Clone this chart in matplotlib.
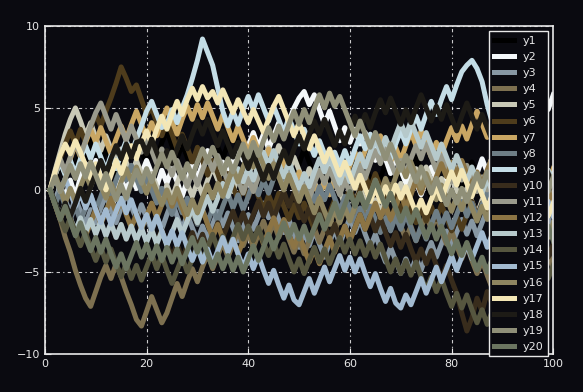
import matplotlib
matplotlib.use("Agg")
import numpy as np
import matplotlib.pyplot as plt

# 20 random-walk style series (x = 1..100)
y1 = [0.0, 0.8, 1.5, 0.9, 2.0, 1.2, 2.4, 1.8, 3.0, 2.2,
      1.5, 2.6, 1.9, 1.0, 2.1, 2.9, 2.0, 3.1, 2.4, 1.6,
      2.5, 1.8, 2.9, 3.6, 2.7, 1.9, 2.8, 2.0, 1.1, 2.2,
      1.5, 0.7, 1.8, 2.6, 1.9, 2.8, 3.5, 2.6, 1.8, 2.7,
      1.9, 1.1, 0.4, 1.3, 0.5, 1.4, 2.2, 1.5, 0.6, 1.6,
      2.5, 1.7, 0.9, 1.9, 1.1, 0.2, 1.0, 0.3, 1.2, 2.0,
      1.2, 0.4, 1.5, 0.6, -0.3, 0.7, 1.6, 0.8, 1.8, 1.0,
      0.1, 1.1, 2.0, 1.2, 0.3, -0.5, 0.5, -0.4, 0.6, 1.5,
      0.7, -0.2, 0.8, 1.7, 0.9, 0.0, 1.0, 0.2, 1.2, 0.4,
      -0.6, 0.3, 1.2, 0.4, -0.5, 0.5, 1.4, 0.6, -0.3, 0.5]
y2 = [0.0, -0.8, 0.3, -0.5, 0.6, -0.4, 0.8, 1.6, 0.9, 1.8,
      0.8, -0.3, -1.2, -0.2, 0.7, -0.1, 0.9, 0.1, 1.0, 1.8,
      1.0, 0.2, 1.2, 0.4, 1.3, 0.5, -0.4, 0.6, 1.5, 0.7,
      1.6, 2.4, 1.5, 0.7, 1.7, 0.9, 1.8, 2.6, 1.8, 2.7,
      3.5, 2.6, 3.4, 2.5, 3.3, 4.1, 3.2, 4.2, 5.0, 5.6,
      6.0, 5.2, 5.8, 4.9, 4.0, 4.8, 3.9, 3.0, 3.8, 2.9,
      3.7, 2.8, 3.5, 2.6, 1.8, 2.7, 1.9, 1.0, 2.0, 1.2,
      0.4, 1.3, 0.5, -0.3, 0.6, 1.4, 0.6, -0.2, 0.8, 1.6,
      0.8, 1.7, 0.9, 0.1, 1.0, 1.9, 1.1, 2.0, 2.9, 2.1,
      3.0, 3.8, 3.0, 3.9, 4.7, 3.9, 4.8, 5.6, 4.9, 5.8]
y3 = [0.0, -0.7, 0.2, -0.6, -1.4, -0.5, -1.3, -2.1, -1.2, -2.0,
      -1.1, -0.3, -1.2, -2.0, -1.1, -0.2, -1.0, -1.8, -0.9, -1.7,
      -2.5, -1.6, -2.4, -1.5, -0.7, -1.6, -2.4, -1.5, -2.3, -3.1,
      -2.2, -3.0, -2.1, -1.3, -2.2, -1.4, -2.3, -3.1, -2.3, -1.5,
      -2.4, -1.6, -0.8, -1.7, -0.9, -1.8, -2.6, -1.8, -2.7, -3.5,
      -2.6, -3.4, -2.5, -3.3, -4.1, -3.2, -2.4, -3.3, -2.5, -1.7,
      -2.6, -1.8, -2.7, -3.5, -2.7, -3.6, -4.4, -3.5, -4.3, -5.1,
      -4.2, -5.0, -4.1, -4.9, -4.0, -3.2, -4.1, -3.3, -2.5, -3.4,
      -2.6, -1.8, -2.7, -1.9, -2.8, -2.0, -1.2, -2.1, -1.3, -2.2,
      -3.0, -2.2, -3.1, -2.3, -1.5, -2.4, -1.6, -2.5, -1.7, -2.6]
y4 = [0.0, -0.9, -1.8, -2.9, -3.8, -4.9, -5.8, -6.6, -7.1, -6.2,
      -5.3, -4.6, -5.4, -4.5, -5.3, -6.2, -7.0, -7.9, -8.3, -7.4,
      -6.5, -7.3, -8.1, -7.5, -6.6, -5.7, -6.5, -5.6, -4.8, -5.6,
      -4.7, -3.9, -4.8, -4.0, -3.2, -4.1, -3.3, -2.5, -3.4, -2.6,
      -3.5, -2.7, -1.9, -2.8, -2.0, -2.9, -2.1, -3.0, -3.8, -3.0,
      -3.9, -3.1, -2.3, -3.2, -2.4, -1.6, -2.5, -1.7, -0.9, -1.8,
      -1.0, -1.9, -1.1, -0.3, -1.2, -0.4, -1.3, -2.1, -1.3, -2.2,
      -3.0, -2.2, -3.1, -2.3, -1.5, -2.4, -1.6, -2.5, -3.3, -2.5,
      -3.4, -4.2, -3.4, -4.3, -5.1, -4.3, -5.2, -6.0, -5.2, -6.1,
      -6.9, -6.1, -5.3, -6.2, -5.4, -4.6, -5.5, -4.7, -3.9, -4.8]
y5 = [0.0, 1.2, 2.3, 3.4, 4.3, 5.0, 4.2, 3.3, 4.1, 3.2,
      2.4, 3.3, 2.5, 1.6, 2.5, 1.7, 0.9, 1.8, 1.0, 0.1,
      1.0, 0.2, -0.6, 0.3, -0.5, 0.4, 1.2, 0.4, -0.4, 0.5,
      -0.3, 0.6, 1.4, 0.6, 1.5, 0.7, -0.1, 0.8, 0.0, 0.9,
      1.7, 0.9, 1.8, 2.6, 1.8, 2.7, 1.9, 1.1, 2.0, 1.2,
      0.4, 1.3, 0.5, -0.3, 0.6, -0.2, 0.7, -0.1, -0.9, 0.0,
      -0.8, 0.1, -0.7, -1.5, -0.6, -1.4, -0.5, 0.3, -0.5, 0.4,
      -0.4, 0.5, 1.3, 0.5, 1.4, 0.6, -0.2, 0.7, -0.1, 0.8,
      0.0, -0.8, 0.1, -0.7, -1.5, -0.6, -1.4, -0.5, -1.3, -2.1,
      -1.2, -2.0, -1.1, -0.3, -1.2, -0.4, -1.3, -0.5, 0.3, -0.5]
y6 = [0.0, 0.9, 1.9, 2.8, 3.6, 2.8, 3.7, 2.9, 3.8, 4.6,
      3.9, 4.8, 5.6, 6.5, 7.5, 6.8, 6.0, 6.4, 5.5, 4.6,
      5.0, 4.1, 3.3, 4.2, 3.4, 2.5, 3.4, 2.6, 1.7, 2.6,
      1.8, 0.9, 1.8, 1.0, 0.1, 1.0, 0.2, -0.6, 0.3, -0.5,
      0.4, -0.4, -1.2, -0.3, -1.1, -0.2, -1.0, -1.8, -0.9, -1.7,
      -0.8, -1.6, -2.4, -1.5, -2.3, -1.4, -0.6, -1.5, -0.7, 0.1,
      -0.8, 0.0, 0.9, 0.1, 1.0, 0.2, -0.6, 0.3, -0.5, -1.3,
      -0.4, -1.2, -2.0, -1.1, -1.9, -1.0, -1.8, -0.9, -1.7, -2.5,
      -1.6, -2.4, -1.5, -0.7, -1.6, -0.8, -1.7, -0.9, -0.1, -1.0,
      -0.2, 0.7, -0.1, 0.8, 0.0, 0.9, 0.1, 1.0, 0.2, -0.6]
y7 = [0.0, 0.9, 1.8, 1.0, 1.9, 2.8, 2.0, 2.9, 3.7, 2.9,
      3.8, 3.0, 2.2, 3.1, 3.9, 3.1, 4.0, 4.8, 4.0, 3.2,
      4.1, 3.3, 4.2, 5.0, 4.2, 3.4, 4.3, 5.1, 4.3, 5.2,
      4.4, 5.3, 4.5, 3.7, 4.6, 3.8, 3.0, 3.9, 3.1, 2.3,
      3.2, 2.4, 1.6, 2.5, 1.7, 0.9, 1.8, 1.0, 0.2, 1.1,
      0.3, -0.5, 0.4, -0.4, 0.5, -0.3, 0.6, 1.4, 0.6, 1.5,
      2.3, 1.5, 2.4, 3.2, 2.4, 3.3, 2.5, 1.7, 2.6, 1.8,
      2.7, 3.5, 2.7, 3.6, 2.8, 2.0, 2.9, 2.1, 3.0, 3.8,
      3.0, 3.9, 3.1, 4.0, 4.8, 4.0, 3.2, 4.1, 3.3, 2.5,
      3.4, 2.6, 1.8, 2.7, 1.9, 1.1, 2.0, 1.2, 0.4, 1.3]
y8 = [0.0, -0.9, -0.1, -1.0, -1.8, -1.0, -1.9, -1.1, -0.3, -1.2,
      -0.4, 0.5, -0.3, 0.6, 1.4, 0.6, 1.5, 0.7, -0.1, 0.8,
      0.0, -0.8, 0.1, -0.7, -1.5, -0.6, -1.4, -0.5, -1.3, -2.1,
      -1.2, -2.0, -1.1, -1.9, -1.0, -0.2, -1.1, -0.3, -1.2, -0.4,
      0.5, -0.3, 0.6, -0.2, 0.7, 1.5, 0.7, 1.6, 0.8, 0.0,
      0.9, 0.1, -0.7, 0.2, -0.6, 0.3, -0.5, -1.3, -0.4, -1.2,
      -2.0, -1.1, -1.9, -1.0, -1.8, -2.6, -1.7, -2.5, -1.6, -2.4,
      -1.5, -2.3, -3.1, -2.2, -3.0, -2.1, -1.3, -2.2, -1.4, -2.3,
      -1.5, -0.7, -1.6, -0.8, -1.7, -0.9, -0.1, -1.0, -0.2, -1.1,
      -1.9, -1.1, -2.0, -1.2, -0.4, -1.3, -0.5, -1.4, -0.6, -1.5]
y9 = [0.0, 0.9, 1.7, 0.9, 1.8, 1.0, 1.9, 2.7, 1.9, 2.8,
      2.0, 1.2, 2.1, 1.3, 2.2, 3.0, 2.2, 3.1, 3.9, 4.8,
      5.4, 4.6, 3.8, 4.0, 4.9, 4.1, 5.0, 5.8, 6.8, 7.9,
      9.2, 8.4, 7.6, 6.2, 4.8, 3.9, 4.8, 4.0, 4.9, 5.7,
      4.9, 5.8, 5.0, 4.2, 5.1, 4.3, 3.5, 4.4, 3.6, 2.8,
      3.7, 2.9, 2.1, 3.0, 2.2, 1.4, 2.3, 1.5, 2.4, 1.6,
      2.5, 3.3, 2.5, 3.4, 2.6, 1.8, 2.7, 1.9, 2.8, 3.6,
      2.8, 3.7, 4.5, 3.7, 4.6, 5.4, 4.6, 5.5, 6.3, 5.5,
      6.4, 7.2, 7.6, 7.9, 7.4, 6.6, 5.2, 4.1, 3.0, 2.2,
      3.1, 2.3, 1.5, 2.4, 1.6, 0.8, 1.7, 0.9, 0.1, 1.0]
y10 = [0.0, -0.8, -1.7, -0.9, -1.8, -2.6, -1.8, -2.7, -1.9, -1.1,
       -2.0, -1.2, -2.1, -2.9, -2.1, -3.0, -2.2, -1.4, -2.3, -1.5,
       -2.4, -3.2, -2.4, -3.3, -4.1, -3.3, -4.2, -3.4, -2.6, -3.5,
       -2.7, -3.6, -2.8, -2.0, -2.9, -2.1, -1.3, -2.2, -1.4, -2.3,
       -1.5, -0.7, -1.6, -0.8, -1.7, -0.9, -0.1, -1.0, -0.2, -1.1,
       -1.9, -1.1, -2.0, -1.2, -2.1, -2.9, -2.1, -3.0, -2.2, -3.1,
       -2.3, -1.5, -2.4, -1.6, -2.5, -1.7, -2.6, -3.4, -2.6, -3.5,
       -2.7, -3.6, -4.4, -3.6, -4.5, -3.7, -4.6, -5.4, -4.6, -5.5,
       -6.3, -7.5, -8.6, -7.8, -6.6, -7.4, -6.2, -7.0, -5.8, -6.6,
       -5.4, -4.6, -5.5, -4.7, -3.9, -4.8, -4.0, -3.2, -4.1, -3.3]
y11 = [0.0, 0.9, 1.9, 1.1, 2.0, 2.9, 2.1, 3.0, 3.9, 4.7,
       5.3, 4.5, 3.7, 4.6, 3.8, 3.0, 3.9, 3.1, 2.3, 3.2,
       2.4, 1.6, 2.5, 1.7, 0.9, 1.8, 1.0, 0.2, 1.1, 0.3,
       1.2, 2.0, 1.2, 2.1, 1.3, 0.5, 1.4, 0.6, -0.2, 0.7,
       -0.1, 0.8, 1.6, 0.8, 1.7, 0.9, 0.1, 1.0, 0.2, -0.6,
       0.3, -0.5, 0.4, 1.2, 0.4, 1.3, 0.5, -0.3, 0.6, -0.2,
       0.7, 1.5, 0.7, 1.6, 2.4, 1.6, 2.5, 1.7, 0.9, 1.8,
       1.0, 1.9, 2.7, 1.9, 2.8, 2.0, 1.2, 2.1, 1.3, 0.5,
       1.4, 0.6, 1.5, 0.7, -0.1, 0.8, 0.0, 0.9, 0.1, -0.7,
       0.2, -0.6, 0.3, -0.5, -1.3, -0.4, -1.2, -0.3, -1.1, -0.2]
y12 = [0.0, -0.9, -1.8, -1.0, -1.9, -2.7, -1.9, -2.8, -2.0, -1.2,
       -2.1, -1.3, -0.5, -1.4, -0.6, -1.5, -2.3, -1.5, -2.4, -1.6,
       -0.8, -1.7, -0.9, -0.1, -1.0, -0.2, -1.1, -1.9, -1.1, -2.0,
       -1.2, -2.1, -2.9, -2.1, -3.0, -3.8, -3.0, -3.9, -3.1, -2.3,
       -3.2, -2.4, -3.3, -2.5, -1.7, -2.6, -1.8, -2.7, -3.5, -2.7,
       -3.6, -4.4, -3.6, -4.5, -3.7, -2.9, -3.8, -3.0, -2.2, -3.1,
       -2.3, -1.5, -2.4, -1.6, -0.8, -1.7, -0.9, -1.8, -1.0, -0.2,
       -1.1, -0.3, 0.6, -0.2, 0.7, -0.1, 0.8, 1.6, 0.8, 1.7,
       0.9, 1.8, 1.0, 0.2, 1.1, 0.3, 1.2, 2.0, 1.2, 2.1,
       1.3, 0.5, 1.4, 0.6, -0.2, 0.7, -0.1, 0.8, 0.0, -0.8]
y13 = [0.0, -0.8, -1.6, -0.8, -1.7, -2.5, -1.7, -2.6, -1.8, -2.7,
       -1.9, -2.8, -2.0, -2.9, -2.1, -3.0, -2.2, -3.1, -2.3, -3.2,
       -2.4, -3.3, -2.5, -3.4, -2.6, -1.8, -2.7, -1.9, -1.1, -2.0,
       -1.2, -0.4, -1.3, -0.5, 0.4, -0.4, 0.5, 1.3, 0.5, 1.4,
       0.6, 1.5, 2.3, 1.5, 2.4, 1.6, 0.8, 1.7, 0.9, 0.1,
       1.0, 0.2, 1.1, 1.9, 1.1, 2.0, 1.2, 0.4, 1.3, 0.5,
       1.4, 2.2, 1.4, 2.3, 3.1, 2.3, 3.2, 2.4, 3.3, 4.1,
       3.3, 4.2, 3.4, 2.6, 3.5, 2.7, 1.9, 2.8, 2.0, 1.2,
       2.1, 1.3, 0.5, 1.4, 0.6, -0.2, 0.7, -0.1, 0.8, 0.0,
       -0.8, 0.1, -0.7, 0.2, 1.0, 0.2, 1.1, 0.3, 1.2, 0.4]
y14 = [0.0, -0.8, -1.7, -2.5, -1.7, -2.6, -3.4, -2.6, -3.5, -4.3,
       -3.5, -4.4, -3.6, -4.5, -5.3, -4.5, -5.4, -4.6, -5.5, -4.7,
       -3.9, -4.8, -4.0, -4.9, -5.7, -4.9, -4.1, -5.0, -4.2, -3.4,
       -4.3, -3.5, -2.7, -3.6, -2.8, -3.7, -2.9, -2.1, -3.0, -2.2,
       -3.1, -2.3, -3.2, -4.0, -3.2, -4.1, -3.3, -4.2, -5.0, -4.2,
       -5.1, -4.3, -3.5, -4.4, -3.6, -4.5, -3.7, -2.9, -3.8, -3.0,
       -3.9, -3.1, -4.0, -3.2, -4.1, -3.3, -4.2, -5.0, -4.2, -5.1,
       -4.3, -5.2, -4.4, -5.3, -6.1, -5.3, -6.2, -5.4, -6.3, -7.1,
       -6.3, -7.2, -6.4, -7.3, -8.1, -7.3, -8.2, -7.4, -6.6, -7.5,
       -6.7, -5.9, -6.8, -6.0, -5.2, -6.1, -5.3, -4.5, -5.4, -4.6]
y15 = [0.0, 0.8, -0.1, 0.7, -0.2, -1.0, -0.2, -1.1, -0.3, -1.2,
       -2.0, -1.2, -2.1, -1.3, -0.5, -1.4, -0.6, -1.5, -2.3, -1.5,
       -2.4, -1.6, -2.5, -3.3, -2.5, -3.4, -2.6, -3.5, -4.3, -3.5,
       -4.4, -3.6, -4.5, -3.7, -2.9, -3.8, -3.0, -3.9, -4.7, -3.9,
       -4.8, -4.0, -4.9, -5.7, -4.9, -5.8, -6.6, -5.8, -6.7, -7.0,
       -6.2, -5.4, -6.3, -5.5, -4.7, -5.6, -4.8, -4.0, -4.9, -4.1,
       -5.0, -4.2, -5.1, -5.9, -5.1, -6.0, -6.8, -6.0, -6.9, -7.2,
       -6.4, -7.0, -6.2, -5.4, -6.3, -5.5, -4.7, -5.6, -4.8, -4.0,
       -4.9, -4.1, -3.3, -4.2, -3.4, -2.6, -3.5, -2.7, -1.9, -2.8,
       -2.0, -1.2, -2.1, -1.3, -0.5, -1.4, -0.6, -1.5, -0.7, -1.6]
y16 = [0.0, 0.9, 0.1, -0.8, 0.1, -0.7, 0.2, 1.0, 0.2, 1.1,
       0.3, -0.5, 0.4, -0.4, 0.5, 1.3, 0.5, 1.4, 0.6, -0.2,
       0.7, -0.1, -0.9, 0.0, -0.8, 0.1, -0.7, -1.5, -0.6, -1.4,
       -0.5, 0.3, -0.5, 0.4, -0.4, 0.5, 1.3, 0.5, 1.4, 2.2,
       1.4, 2.3, 1.5, 0.7, 1.6, 0.8, 0.0, 0.9, 0.1, -0.7,
       0.2, -0.6, -1.4, -0.5, -1.3, -2.1, -1.2, -2.0, -1.1, -1.9,
       -1.0, -0.2, -1.1, -0.3, 0.6, -0.2, 0.7, -0.1, 0.8, 1.6,
       0.8, 1.7, 0.9, 0.1, 1.0, 0.2, -0.6, 0.3, -0.5, -1.3,
       -0.4, -1.2, -0.3, -1.1, -1.9, -1.0, -1.8, -0.9, -1.7, -2.5,
       -1.6, -2.4, -1.5, -2.3, -3.1, -2.2, -3.0, -2.1, -2.9, -2.0]
y17 = [0.0, 1.1, 2.1, 2.8, 2.2, 3.0, 2.3, 1.5, 0.7, 1.6,
       0.8, 0.0, 0.9, 1.8, 1.0, 1.9, 2.7, 1.9, 2.8, 3.6,
       2.8, 3.7, 4.5, 3.7, 4.6, 5.4, 4.6, 5.5, 6.2, 5.5,
       6.3, 5.6, 6.0, 5.3, 6.1, 5.4, 4.7, 5.5, 4.8, 4.1,
       4.9, 4.2, 3.5, 4.3, 5.1, 5.7, 4.9, 4.1, 3.3, 4.1,
       3.3, 2.5, 3.3, 2.5, 1.7, 2.5, 1.7, 0.9, 1.7, 0.9,
       0.1, 0.9, 0.1, -0.7, 0.1, -0.7, 0.2, -0.6, 0.3, -0.5,
       0.2, -0.6, -1.4, -0.6, -1.4, -0.6, 0.2, -0.6, 0.3, 1.1,
       0.3, 1.2, 0.4, -0.4, 0.5, -0.3, -1.1, -0.3, -1.2, -0.4,
       -1.3, -0.5, -1.4, -2.2, -1.4, -2.3, -1.5, -0.7, -1.6, -0.8]
y18 = [0.0, -0.8, -1.6, -0.8, -1.6, -0.8, 0.1, -0.7, 0.2, 1.0,
       1.8, 1.0, 1.9, 2.7, 1.9, 2.8, 2.0, 2.9, 3.0, 2.2,
       3.1, 2.3, 1.5, 2.4, 1.6, 2.5, 3.3, 2.5, 3.4, 4.2,
       3.4, 4.3, 3.5, 2.7, 3.6, 2.8, 2.0, 2.9, 2.1, 1.3,
       2.2, 1.4, 0.6, 1.5, 0.7, 1.6, 2.4, 1.6, 2.5, 3.3,
       2.5, 3.4, 4.2, 3.4, 4.3, 3.5, 2.7, 3.6, 2.8, 3.7,
       4.5, 3.7, 4.6, 3.8, 4.7, 5.5, 4.7, 5.6, 4.8, 4.0,
       4.9, 4.1, 5.0, 5.8, 5.0, 4.2, 5.1, 4.3, 5.2, 4.4,
       3.6, 4.5, 5.3, 4.5, 3.7, 4.6, 3.8, 3.0, 3.9, 3.1,
       2.3, 3.2, 2.4, 1.6, 2.5, 1.7, 0.9, 1.8, 1.0, 0.2]
y19 = [0.0, 0.8, -0.1, 0.7, 1.5, 0.7, 1.6, 0.8, 1.7, 0.9,
       0.1, 1.0, 0.2, -0.6, 0.3, -0.5, 0.4, 1.2, 0.4, 1.3,
       0.5, 1.4, 2.2, 1.4, 2.3, 1.5, 0.7, 1.6, 0.8, 1.7,
       2.5, 1.7, 2.6, 1.8, 1.0, 1.9, 1.1, 2.0, 2.8, 2.0,
       2.9, 2.1, 3.0, 3.8, 3.0, 3.9, 3.1, 4.0, 4.8, 4.0,
       4.9, 4.1, 5.0, 5.8, 5.0, 5.9, 5.1, 5.7, 4.9, 4.1,
       3.3, 4.2, 3.4, 2.6, 3.5, 2.7, 1.9, 2.8, 2.0, 1.2,
       2.1, 1.3, 0.5, 1.4, 0.6, -0.2, 0.7, -0.1, -0.9, 0.0,
       -0.8, 0.1, -0.7, 0.2, 1.0, 0.2, 1.1, 0.3, -0.5, 0.4,
       -0.4, 0.5, 1.3, 0.5, 1.4, 0.6, -0.2, 0.7, -0.1, 0.8]
y20 = [0.0, -0.9, -1.8, -1.0, -1.9, -2.8, -2.0, -2.9, -3.7, -2.9,
       -3.8, -3.0, -3.9, -4.7, -3.9, -4.8, -4.0, -3.2, -4.1, -3.3,
       -4.2, -3.4, -4.3, -3.5, -4.4, -3.6, -4.5, -3.7, -2.9, -3.8,
       -3.0, -3.9, -4.7, -3.9, -4.8, -4.0, -4.9, -4.1, -5.0, -4.2,
       -3.4, -4.3, -3.5, -2.7, -3.6, -2.8, -2.0, -2.9, -2.1, -3.0,
       -2.2, -3.1, -2.3, -1.5, -2.4, -1.6, -0.8, -1.7, -0.9, -0.1,
       -1.0, -0.2, -1.1, -0.3, 0.6, -0.2, -1.0, -0.2, -1.1, -1.9,
       -1.1, -2.0, -1.2, -2.1, -2.9, -2.1, -3.0, -2.2, -3.1, -3.9,
       -3.1, -4.0, -3.2, -4.1, -4.9, -4.1, -5.0, -4.2, -5.1, -4.3,
       -3.5, -4.4, -3.6, -2.8, -3.7, -2.9, -2.1, -3.0, -2.2, -3.1]

series = [y1, y2, y3, y4, y5, y6, y7, y8, y9, y10,
          y11, y12, y13, y14, y15, y16, y17, y18, y19, y20]
labels = [f"y{i}" for i in range(1, 21)]
colors = ["#000000", "#f4f8fa", "#8797a3", "#7d7050", "#c8c8b6",
          "#4e3c1c", "#c9a663", "#6e7e86", "#c4dde6", "#382c1c",
          "#9a9a8c", "#8c7444", "#b6c9cb", "#56563f", "#a2bad0",
          "#8e8560", "#f3e6b5", "#1d1b16", "#8f8f78", "#6b7560"]

bg = "#0a0a10"
fg = "#e8e8e8"

fig = plt.figure(figsize=(5.83, 3.92), dpi=100, facecolor=bg)
ax = fig.add_axes([0.077, 0.097, 0.872, 0.837], facecolor=bg)

for y, lab, c in zip(series, labels, colors):
    x = np.arange(1, len(y) + 1)
    ax.plot(x, y, color=c, linewidth=3.6, label=lab)

ax.set_xlim(0, 100)
ax.set_ylim(-10, 10)
ax.set_xticks([0, 20, 40, 60, 80, 100])
ax.set_yticks([-10, -5, 0, 5, 10])
ax.grid(True, color="white", linestyle=(0, (3, 3, 1, 3)), linewidth=0.8, alpha=0.8)
ax.tick_params(direction="in", colors=fg, labelcolor=fg, labelsize=8,
               length=4, width=0.8, top=False, right=False)
for s in ax.spines.values():
    s.set_color(fg)
    s.set_linewidth(1.2)

leg = ax.legend(loc="upper right", fontsize=8, handlelength=1.8,
                labelspacing=0.55, borderaxespad=0.5, borderpad=0.4,
                handletextpad=0.8, frameon=True, fancybox=False)
leg.get_frame().set_facecolor(bg)
leg.get_frame().set_edgecolor(fg)
leg.get_frame().set_alpha(1.0)
leg.get_frame().set_linewidth(1.0)
for t in leg.get_texts():
    t.set_color(fg)

fig.savefig("out.png", dpi=100, facecolor=bg)
